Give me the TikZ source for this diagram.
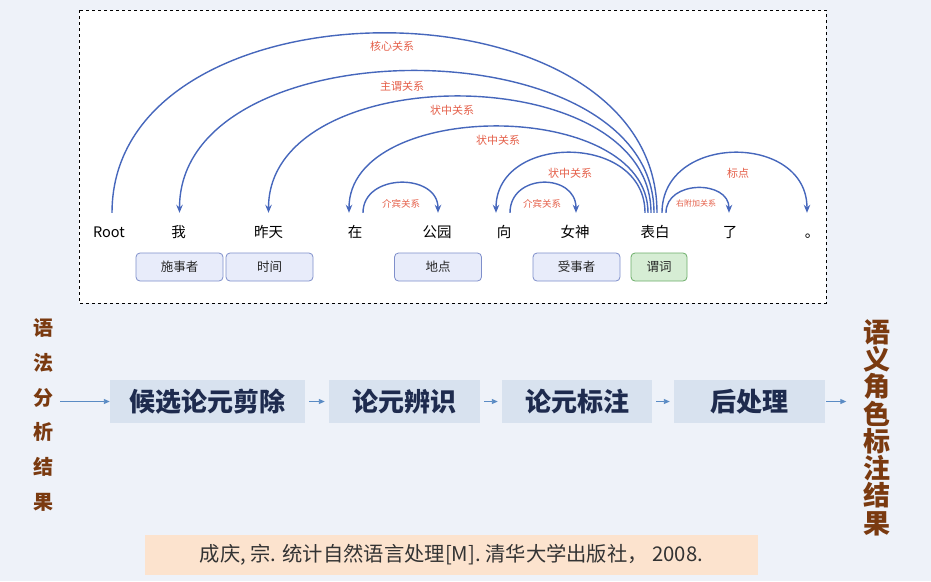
\documentclass[tikz,border=0pt]{standalone}
\usepackage{fontspec}
\setmainfont{Noto Sans CJK SC}
\newfontfamily\heavyfont{Noto Sans CJK SC Black}
\usetikzlibrary{arrows.meta}
\definecolor{bgc}{HTML}{EEF2F9}
\definecolor{arcblue}{HTML}{4667BC}
\definecolor{lblred}{HTML}{E5604A}
\definecolor{tagfill}{HTML}{E8ECFA}
\definecolor{tagdraw}{HTML}{7F8FCB}
\definecolor{predfill}{HTML}{D6EDD4}
\definecolor{preddraw}{HTML}{6DAE6A}
\definecolor{stepfill}{HTML}{D8E2EF}
\definecolor{steptext}{HTML}{1E2B4E}
\definecolor{flowarrow}{HTML}{5A8BC4}
\definecolor{brownc}{HTML}{7A3A10}
\definecolor{citefill}{HTML}{FCE3CE}
\definecolor{citetext}{HTML}{333333}
\begin{document}
\begin{tikzpicture}[x=1pt,y=-1pt,
  word/.style={font=\fontsize{14.5}{14.5}\selectfont, inner xsep=0pt, inner ysep=14pt, text height=10pt, text depth=2pt, text=black},
  arcline/.style={draw=arcblue, line width=1.4pt},
  arcarrow/.style={arcline, -{Stealth[length=8pt,width=6.5pt]}},
  lbl/.style={text=lblred, font=\fontsize{11}{11}\selectfont, inner sep=0pt},
  lblsmall/.style={text=lblred, font=\fontsize{9.5}{9.5}\selectfont, inner sep=0pt},
  tag/.style={draw=tagdraw, fill=tagfill, rounded corners=4pt, line width=0.8pt, minimum width=87pt, minimum height=28pt, inner sep=0pt, font=\fontsize{12.5}{12.5}\selectfont, text=black!85},
  pred/.style={tag, draw=preddraw, fill=predfill, minimum width=56pt},
  stepbox/.style={fill=stepfill, minimum height=43pt, inner sep=0pt, font=\heavyfont\fontsize{26}{26}\selectfont, text=steptext},
  flow/.style={draw=flowarrow, line width=0.9pt, -{Triangle[length=6pt,width=5pt]}},
  cite/.style={fill=citefill, minimum width=613pt, minimum height=40pt, inner sep=0pt, font=\fontsize{20.3}{20.3}\selectfont, text=citetext}
]
\fill[bgc] (0,0) rectangle (931,581);
\useasboundingbox (0,0) rectangle (931,581);
\draw[dashed, fill=white, line width=0.6pt] (79,10) rectangle (826,303);

% words
\node[word] (root) at (109,233) {Root};
\node[word] (wo) at (178.5,233) {我};
\node[word] (zt) at (268.5,233) {昨天};
\node[word] (zai) at (355,233) {在};
\node[word] (gy) at (437,233) {公园};
\node[word] (xiang) at (504,233) {向};
\node[word] (ns) at (575,233) {女神};
\node[word] (bb) at (655,233) {表白};
\node[word] (le) at (730,233) {了};
\node[word] (ju) at (812,233) {。};

% arcs
\draw[arcline] ([xshift=3pt]root.north) .. controls +(0,-240) and +(0,-240) .. ([xshift=2pt]bb.north);
\draw[arcarrow] ([xshift=-1pt]bb.north) .. controls +(0,-189) and +(0,-189) .. ([xshift=1pt]wo.north);
\draw[arcarrow] ([xshift=-4pt]bb.north) .. controls +(0,-155) and +(0,-155) .. ([xshift=0pt]zt.north);
\draw[arcarrow] ([xshift=-7pt]bb.north) .. controls +(0,-115) and +(0,-115) .. ([xshift=-6pt]zai.north);
\draw[arcarrow] ([xshift=-10pt]bb.north) .. controls +(0,-80) and +(0,-80) .. ([xshift=-8pt]xiang.north);
\draw[arcarrow] ([xshift=8pt]zai.north) .. controls +(0,-40) and +(0,-40) .. ([xshift=1pt]gy.north);
\draw[arcarrow] ([xshift=6pt]xiang.north) .. controls +(0,-40) and +(0,-40) .. ([xshift=1pt]ns.north);
\draw[arcarrow] ([xshift=7pt]bb.north) .. controls +(0,-80) and +(0,-80) .. ([xshift=-5pt]ju.north);
\draw[arcarrow] ([xshift=11pt]bb.north) .. controls +(0,-33) and +(0,-33) .. ([xshift=-1pt]le.north);

% arc labels
\node[lbl] (l1) at (392,46.5) {核心关系};
\node[lbl] (l2) at (402,86) {主谓关系};
\node[lbl] (l3) at (452,110.5) {状中关系};
\node[lbl] (l4) at (498,140.5) {状中关系};
\node[lbl] (l5) at (570,173) {状中关系};
\node[lbl] (l6) at (738,173) {标点};
\node[lblsmall] (l7) at (401,204) {介宾关系};
\node[lblsmall] (l8) at (542,204) {介宾关系};
\node[lblsmall, font=\fontsize{8}{8}\selectfont] (l9) at (696,203) {右附加关系};

% role tags
\node[tag] (t1) at (179.5,267) {施事者};
\node[tag] (t2) at (269.5,267) {时间};
\node[tag] (t3) at (438,267) {地点};
\node[tag] (t4) at (576.5,267) {受事者};
\node[pred] (t5) at (659,267) {谓词};

% pipeline
\node[inner sep=0pt, align=center, text=brownc, font=\fontsize{20}{34.8}\selectfont\bfseries] (lt) at (43,415) {语\\法\\分\\析\\结\\果};
\node[inner sep=0pt, align=center, text=brownc, font=\heavyfont\fontsize{27}{27.3}\selectfont] (rt) at (877,427.5) {语\\义\\角\\色\\标\\注\\结\\果};
\node[stepbox, minimum width=195pt] (s1) at (207.5,401.5) {候选论元剪除};
\node[stepbox, minimum width=151pt] (s2) at (404.5,401.5) {论元辨识};
\node[stepbox, minimum width=150pt] (s3) at (577,401.5) {论元标注};
\node[stepbox, minimum width=151pt] (s4) at (749.5,401.5) {后处理};
\draw[flow, shorten <=7pt] (lt.east |- s1.west) -- (s1.west);
\draw[flow, shorten <=4pt, shorten >=4pt] (s1.east) -- (s2.west);
\draw[flow, shorten <=4pt, shorten >=4pt] (s2.east) -- (s3.west);
\draw[flow, shorten <=4pt, shorten >=4pt] (s3.east) -- (s4.west);
\draw[flow, shorten <=1pt, shorten >=17pt] (s4.east) -- (rt.west |- s4.east);

% citation
\node[cite] (c) at (451.5,555) {成庆, 宗. 统计自然语言处理[M]. 清华大学出版社， 2008.};
\end{tikzpicture}
\end{document}
